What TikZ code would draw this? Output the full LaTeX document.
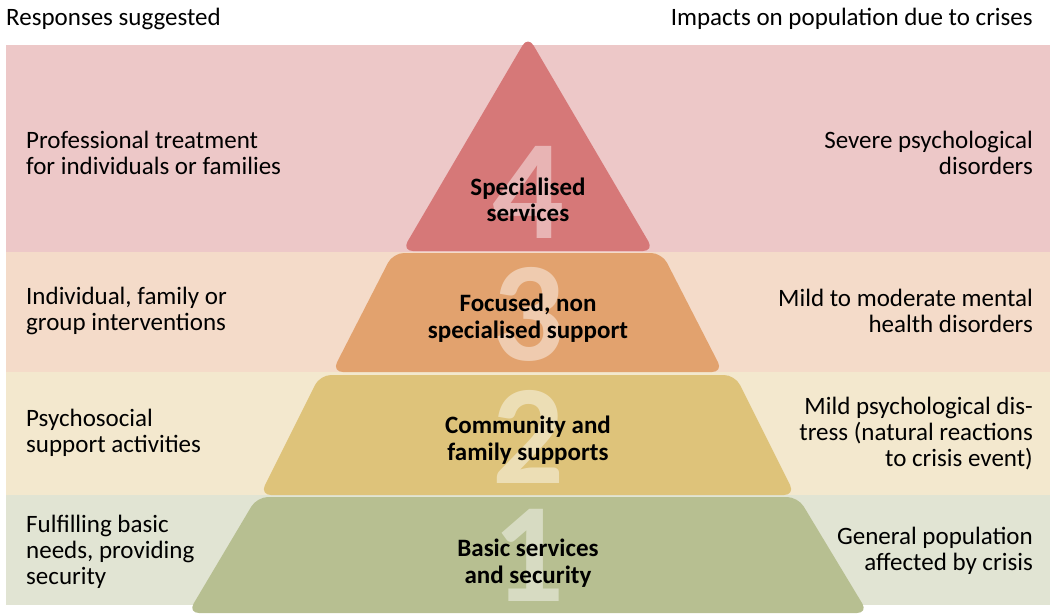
\documentclass[tikz,border=0pt]{standalone}
\usepackage{fontspec}
\setmainfont{Carlito}
\definecolor{bandA}{HTML}{EDC8C8}
\definecolor{shapeA}{HTML}{D67878}
\definecolor{bandB}{HTML}{F4DBC9}
\definecolor{shapeB}{HTML}{E2A26E}
\definecolor{bandC}{HTML}{F3E8CE}
\definecolor{shapeC}{HTML}{DEC37A}
\definecolor{bandD}{HTML}{E1E4D3}
\definecolor{shapeD}{HTML}{B7BF91}
\begin{document}
\begin{tikzpicture}[x=1pt,y=-1pt,
  lbl/.style={inner sep=0pt,font=\fontsize{25}{26}\selectfont},
  leftlbl/.style={lbl,anchor=west,align=left},
  rightlbl/.style={lbl,anchor=east,align=right},
  midlbl/.style={inner sep=0pt,font=\fontsize{25}{26.5}\selectfont\bfseries,align=center},
  bignum/.style={inner sep=0pt,font=\fontsize{142}{142}\selectfont\bfseries,text=white,text opacity=0.45},
  tier/.style={rounded corners=11pt}]
\useasboundingbox (0,0) rectangle (1054,613);
% background bands
\fill[bandA] (6,45) rectangle (1050,252);
\fill[bandB] (6,252) rectangle (1050,372);
\fill[bandC] (6,372) rectangle (1050,495);
\fill[bandD] (6,495) rectangle (1050,605);
% pyramid tiers
\fill[shapeD,tier] (188,613) -- (257,497) -- (798,497) -- (868,613) -- cycle;
\fill[shapeC,tier] (260,495) -- (320,375) -- (735,375) -- (795,495) -- cycle;
\fill[shapeB,tier] (332,372) -- (393,253) -- (662,253) -- (723,372) -- cycle;
\fill[shapeA,tier] (402,251) -- (528,36) -- (654,251) -- cycle;
% big numbers
\node[bignum] (n4) at (528,192) {4};
\node[bignum] (n3) at (528,314) {3};
\node[bignum] (n2) at (528,437) {2};
\node[bignum] (n1) at (528,555) {1};
% headers
\node[leftlbl] (hl) at (6,19) {Responses suggested};
\node[rightlbl] (hr) at (1033,19) {Impacts on population due to crises};
% left labels
\node[leftlbl] (l4) at (26,153) {Professional treatment\\for individuals or families};
\node[leftlbl] (l3) at (26,311) {Individual, family or\\group interventions};
\node[leftlbl] (l2) at (26,433) {Psychosocial\\support activities};
\node[leftlbl] (l1) at (26,552) {Fulfilling basic\\needs, providing\\security};
% right labels
\node[rightlbl] (r4) at (1033,153) {Severe psychological\\disorders};
\node[rightlbl] (r3) at (1033,311) {Mild to moderate mental\\health disorders};
\node[rightlbl] (r2) at (1033,434) {Mild psychological dis-\\tress (natural reactions\\to crisis event)};
\node[rightlbl] (r1) at (1033,551) {General population\\affected by crisis};
% centre labels
\node[midlbl] (c4) at (528,200) {Specialised\\services};
\node[midlbl] (c3) at (528,318) {Focused, non\\specialised support};
\node[midlbl] (c2) at (528,440) {Community and\\family supports};
\node[midlbl] (c1) at (528,563) {Basic services\\and security};
\end{tikzpicture}
\end{document}
